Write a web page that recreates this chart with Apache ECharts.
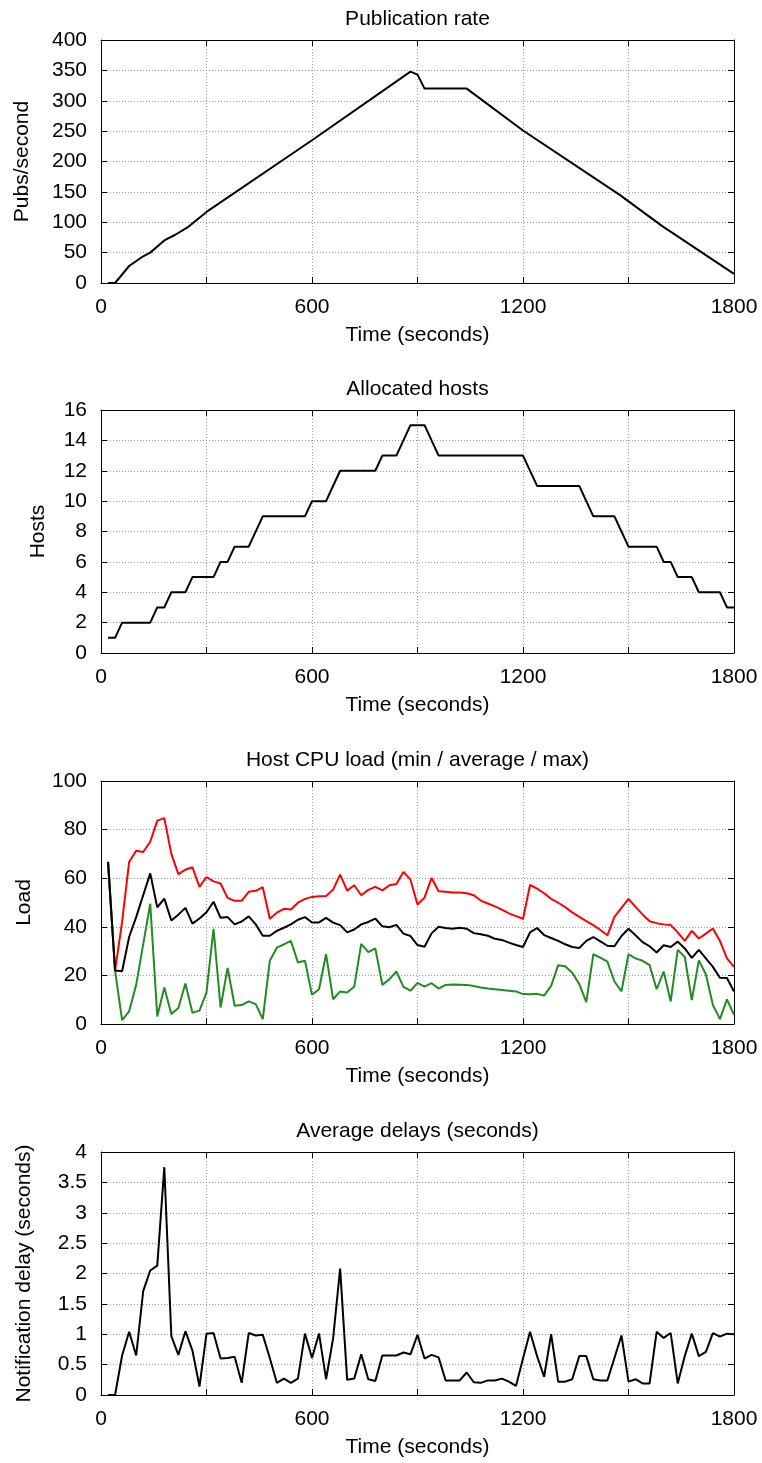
<!DOCTYPE html>
<html>
<head>
<meta charset="utf-8">
<script src="https://cdn.jsdelivr.net/npm/echarts@6/dist/echarts.min.js"></script>
<style>
  html, body { margin: 0; padding: 0; background: #fff; }
  #chart { width: 762px; height: 1463px; }
</style>
</head>
<body>
<div id="chart"></div>
<script>
// publication rate (vertices of the curve)
const pubTimes = [20, 40, 80, 120, 140, 180, 210, 245, 300, 600, 880, 900, 920, 1040, 1200, 1475, 1595, 1800];
const pubRate = [0, 0, 28, 44, 50, 70, 79, 91, 117, 235, 348, 343, 320, 320, 251, 145, 94, 15];

// allocated hosts (step vertices)
const hostTimes = [20, 40, 60, 140, 160, 180, 200, 240, 260, 320, 340, 360, 380, 420, 460, 580, 600, 640, 680, 780, 800, 840, 880, 920, 960, 1200, 1240, 1360, 1400, 1460, 1500, 1580, 1600, 1620, 1640, 1680, 1700, 1760, 1780, 1800];
const hosts = [1, 1, 2, 2, 3, 3, 4, 4, 5, 5, 6, 6, 7, 7, 9, 9, 10, 10, 12, 12, 13, 13, 15, 15, 13, 13, 11, 11, 9, 9, 7, 7, 6, 6, 5, 5, 4, 4, 3, 3];

// sample times for cpu load and delays
const times = [20, 40, 60, 80, 100, 120, 140, 160, 180, 200,
  220, 240, 260, 280, 300, 320, 340, 360, 380, 400,
  420, 440, 460, 480, 500, 520, 540, 560, 580, 600,
  620, 640, 660, 680, 700, 720, 740, 760, 780, 800,
  820, 840, 860, 880, 900, 920, 940, 960, 980, 1000,
  1020, 1040, 1060, 1080, 1100, 1120, 1140, 1160, 1180, 1200,
  1220, 1240, 1260, 1280, 1300, 1320, 1340, 1360, 1380, 1400,
  1420, 1440, 1460, 1480, 1500, 1520, 1540, 1560, 1580, 1600,
  1620, 1640, 1660, 1680, 1700, 1720, 1740, 1760, 1780, 1800];

const loadAvg = [66.7, 22, 21.7, 35.8, 44, 53, 62, 48, 51.6, 42.6,
  45, 47.8, 41.3, 43.4, 46, 50.3, 43.7, 44, 41, 42.2,
  44.3, 41, 36.3, 36.3, 38.3, 39.6, 41, 42.9, 44, 41.8,
  41.8, 43.7, 41.7, 40.7, 37.7, 38.9, 41, 42, 43.4, 40.2,
  39.8, 40.8, 37.2, 36.2, 32.5, 31.8, 37.3, 40, 39.5, 39.2,
  39.6, 39.2, 37.4, 36.9, 36.3, 35.1, 34.6, 33.5, 32.5, 31.7,
  37.7, 39.5, 36.6, 35.4, 34.2, 32.8, 31.7, 31.3, 34.2, 35.8,
  34, 32.2, 32, 36.2, 39.2, 36.5, 33.7, 32, 29.4, 32.4,
  31.7, 33.9, 31.1, 27.2, 30.5, 27, 23.5, 19, 18.9, 13.4];

const loadMax = [66.7, 22, 42, 66.7, 71.3, 70.8, 75, 83.7, 84.7, 70,
  61.7, 63.5, 64.5, 56.4, 60.5, 58.7, 57.8, 51.9, 50.7, 50.7,
  54.4, 54.8, 56.3, 43.3, 45.8, 47.4, 47.1, 49.9, 51.5, 52.3,
  52.6, 52.7, 55.3, 61.5, 54.9, 57.1, 53, 55.2, 56.4, 55,
  57.1, 57.6, 62.6, 59.4, 49.2, 52, 60.1, 54.6, 54.4, 54.1,
  54.1, 53.8, 53, 50.8, 49.6, 48.4, 47.1, 45.5, 44.4, 43.3,
  57.2, 55.7, 53.8, 51.5, 49.9, 48.1, 45.9, 44.1, 42.3, 40.7,
  38.7, 36.5, 44.1, 47.8, 51.5, 48.2, 45.1, 42.3, 41.5, 41,
  40.7, 37.7, 34.2, 38.3, 35.2, 37.2, 39.3, 34.2, 27, 23.5];

const loadMin = [66.7, 22, 1.6, 5.2, 16.1, 32.8, 49.5, 3.1, 15, 4.1,
  6.6, 16.7, 4.6, 5.5, 13, 39.2, 6.8, 23.1, 7.5, 7.8,
  9.3, 8.2, 2, 26, 31.4, 32.8, 34.2, 25.3, 26, 12,
  14.3, 28.7, 10.2, 13.4, 13, 15.3, 33, 29.6, 31.1, 16.1,
  18.4, 21.6, 15.3, 13.7, 16.9, 15.4, 16.8, 14.6, 16.1, 16.3,
  16.2, 16.1, 15.6, 15, 14.6, 14.3, 14, 13.7, 13.4, 12.3,
  12.2, 12.4, 11.7, 15.7, 24.2, 23.8, 21.1, 16.4, 9, 28.7,
  27.3, 25.7, 17.5, 13.4, 28.7, 27, 26, 24.2, 14.3, 21.6,
  9.3, 30.5, 27.6, 9.8, 26.2, 20.5, 7.8, 2, 10.1, 3.8];

const delays = [0, 0, 0.65, 1.04, 0.65, 1.71, 2.05, 2.13, 3.75, 0.97,
  0.66, 1.05, 0.73, 0.14, 1.01, 1.02, 0.6, 0.61, 0.63, 0.2,
  1.02, 0.98, 0.99, 0.61, 0.2, 0.27, 0.2, 0.27, 1.01, 0.61,
  1.01, 0.26, 0.93, 2.08, 0.25, 0.27, 0.67, 0.26, 0.23, 0.65,
  0.65, 0.65, 0.7, 0.67, 0.99, 0.6, 0.66, 0.62, 0.24, 0.24,
  0.24, 0.37, 0.21, 0.2, 0.24, 0.24, 0.27, 0.22, 0.15, 0.6,
  1.04, 0.64, 0.3, 1.0, 0.22, 0.22, 0.26, 0.64, 0.64, 0.26,
  0.24, 0.24, 0.61, 0.98, 0.22, 0.26, 0.19, 0.19, 1.04, 0.94,
  1.02, 0.19, 0.64, 1.01, 0.64, 0.71, 1.02, 0.96, 1.01, 1.0];

const FONT = "Liberation Sans";
const gridTops = [40, 410, 781, 1152];
const gridH = 243;

const panels = [
  { title: "Publication rate", yName: "Pubs/second", max: 400, step: 50, nameGap: 68 },
  { title: "Allocated hosts", yName: "Hosts", max: 16, step: 2, nameGap: 52 },
  { title: "Host CPU load (min / average / max)", yName: "Load", max: 100, step: 20, nameGap: 66 },
  { title: "Average delays (seconds)", yName: "Notification delay (seconds)", max: 4, step: 0.5, nameGap: 66 },
];

const pairs = (xs, ys) => xs.map((x, i) => [x, ys[i]]);

const grid = [], xAxis = [], yAxis = [], graphic = [];
const lineStyleAxis = { show: true, onZero: false, lineStyle: { color: "#000", width: 1 } };
const tickStyle = { show: true, inside: true, length: 6, lineStyle: { color: "#000", width: 1 } };
const splitStyle = { show: true, lineStyle: { color: "#9a9a9a", type: [1, 2], width: 1 } };

panels.forEach((p, i) => {
  grid.push({ left: 101, right: 28, top: gridTops[i], height: gridH });
  graphic.push({
    type: "text",
    x: 417.5,
    y: gridTops[i] - 21,
    style: { text: p.title, font: "21px " + FONT, fill: "#000", align: "center", verticalAlign: "middle" },
  });
  // bottom x axis
  xAxis.push({
    type: "value", gridIndex: i, position: "bottom", min: 0, max: 1800, interval: 300,
    name: "Time (seconds)", nameLocation: "middle", nameGap: 42,
    nameTextStyle: { fontFamily: FONT, fontSize: 21, color: "#000" },
    axisLine: lineStyleAxis,
    axisTick: tickStyle,
    axisLabel: {
      fontFamily: FONT, fontSize: 21, color: "#000", margin: 14,
      formatter: (v) => (v % 600 === 0 ? String(v) : ""),
    },
    splitLine: splitStyle,
  });
  // mirror x axis on top
  xAxis.push({
    type: "value", gridIndex: i, position: "top", min: 0, max: 1800, interval: 300,
    axisLine: lineStyleAxis,
    axisTick: tickStyle, axisLabel: { show: false }, splitLine: { show: false },
  });
  // left y axis
  yAxis.push({
    type: "value", gridIndex: i, position: "left", min: 0, max: p.max, interval: p.step,
    name: p.yName, nameLocation: "middle", nameGap: p.nameGap, nameRotate: 90,
    nameTextStyle: { fontFamily: FONT, fontSize: 21, color: "#000" },
    axisLine: lineStyleAxis,
    axisTick: tickStyle,
    axisLabel: { fontFamily: FONT, fontSize: 21, color: "#000", margin: 14 },
    splitLine: splitStyle,
  });
  // mirror y axis on right
  yAxis.push({
    type: "value", gridIndex: i, position: "right", min: 0, max: p.max, interval: p.step,
    axisLine: lineStyleAxis,
    axisTick: tickStyle, axisLabel: { show: false }, splitLine: { show: false },
  });
});

const lineSeries = (idx, data, color) => ({
  type: "line",
  xAxisIndex: idx * 2,
  yAxisIndex: idx * 2,
  data: data,
  showSymbol: false,
  symbol: "none",
  lineStyle: { color: color, width: 2 },
  itemStyle: { color: color },
});

const option = {
  animation: false,
  grid: grid,
  xAxis: xAxis,
  yAxis: yAxis,
  graphic: graphic,
  series: [
    lineSeries(0, pairs(pubTimes, pubRate), "#000"),
    lineSeries(1, pairs(hostTimes, hosts), "#000"),
    lineSeries(2, pairs(times, loadMax), "#ff0000"),
    lineSeries(2, pairs(times, loadMin), "#228b22"),
    lineSeries(2, pairs(times, loadAvg), "#000"),
    lineSeries(3, pairs(times, delays), "#000"),
  ],
};

const myChart = echarts.init(document.getElementById("chart"));
myChart.setOption(option);
</script>
</body>
</html>
